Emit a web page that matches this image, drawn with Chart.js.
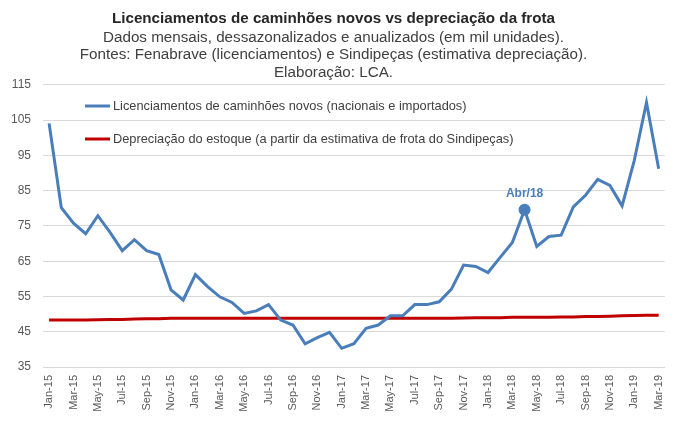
<!DOCTYPE html>
<html>
<head>
<meta charset="utf-8">
<script src="https://cdn.jsdelivr.net/npm/chart.js@4/dist/chart.umd.min.js"></script>
<style>
  html, body { margin: 0; padding: 0; background: #fff; }
  #wrap { width: 680px; height: 423px; }
</style>
</head>
<body>
<div id="wrap"><canvas id="grafico" width="680" height="423"></canvas></div>
<script>
// meses (jan/15 a mar/19)
const meses = [
  "Jan-15","Feb-15","Mar-15","Apr-15","May-15","Jun-15","Jul-15","Aug-15","Sep-15","Oct-15","Nov-15","Dec-15",
  "Jan-16","Feb-16","Mar-16","Apr-16","May-16","Jun-16","Jul-16","Aug-16","Sep-16","Oct-16","Nov-16","Dec-16",
  "Jan-17","Feb-17","Mar-17","Apr-17","May-17","Jun-17","Jul-17","Aug-17","Sep-17","Oct-17","Nov-17","Dec-17",
  "Jan-18","Feb-18","Mar-18","Apr-18","May-18","Jun-18","Jul-18","Aug-18","Sep-18","Oct-18","Nov-18","Dec-18",
  "Jan-19","Feb-19","Mar-19"
];

const licenciamentos = [
  104.1, 80.2, 75.8, 72.8, 77.9, 73.2, 68.0, 71.1, 68.0, 66.9, 56.9, 54.0,
  61.2, 57.8, 54.9, 53.3, 50.2, 50.9, 52.7, 48.3, 46.9, 41.6, 43.3, 44.8,
  40.3, 41.6, 46.0, 46.9, 49.5, 49.5, 52.7, 52.7, 53.5, 57.1, 63.9, 63.5,
  61.8, 66.1, 70.3, 79.6, 69.2, 72.0, 72.4, 80.4, 83.7, 88.2, 86.5, 80.7,
  93.6, 110.0, 91.2
];

const depreciacao = [
  48.3, 48.3, 48.3, 48.3, 48.4, 48.5, 48.5, 48.6, 48.7, 48.7, 48.8, 48.8,
  48.8, 48.8, 48.8, 48.8, 48.8, 48.8, 48.8, 48.8, 48.8, 48.8, 48.8, 48.8,
  48.8, 48.8, 48.8, 48.8, 48.8, 48.8, 48.8, 48.8, 48.8, 48.8, 48.9, 49.0,
  49.0, 49.0, 49.1, 49.1, 49.1, 49.1, 49.2, 49.2, 49.3, 49.3, 49.4, 49.5,
  49.6, 49.7, 49.7
];

const destaque = { indice: 39, texto: "Abr/18" };

const titulo = "Licenciamentos de caminhões novos vs depreciação da frota";
const subtitulo = [
  "Dados mensais, dessazonalizados e anualizados (em mil unidades).",
  "Fontes: Fenabrave (licenciamentos) e Sindipeças (estimativa depreciação).",
  "Elaboração: LCA."
];

const AZUL = "#4a7ebb";
const VERMELHO = "#c00000";
const FONTE = "'Liberation Sans', Arial, sans-serif";

// legenda dentro da área do gráfico
const legendaInterna = {
  id: "legendaInterna",
  afterDraw(chart) {
    const ctx = chart.ctx;
    const linhas = [
      { y: 106, cor: AZUL, texto: chart.data.datasets[0].label },
      { y: 139, cor: VERMELHO, texto: chart.data.datasets[1].label }
    ];
    ctx.save();
    ctx.font = "12.8px " + FONTE;
    ctx.textBaseline = "middle";
    linhas.forEach(l => {
      ctx.strokeStyle = l.cor;
      ctx.lineWidth = 3;
      ctx.beginPath();
      ctx.moveTo(85, l.y);
      ctx.lineTo(110, l.y);
      ctx.stroke();
      ctx.fillStyle = "#404040";
      ctx.fillText(l.texto, 113, l.y + 0.5);
    });
    ctx.restore();
  }
};

const rotuloDestaque = {
  id: "rotuloDestaque",
  afterDatasetsDraw(chart) {
    const ponto = chart.getDatasetMeta(0).data[destaque.indice];
    const ctx = chart.ctx;
    ctx.save();
    ctx.font = "bold 12px " + FONTE;
    ctx.fillStyle = AZUL;
    ctx.textAlign = "center";
    ctx.textBaseline = "middle";
    ctx.fillText(destaque.texto, ponto.x, ponto.y - 16);
    ctx.restore();
  }
};

new Chart(document.getElementById("grafico"), {
  type: "line",
  data: {
    labels: meses,
    datasets: [
      {
        label: "Licenciamentos de caminhões novos (nacionais e importados)",
        data: licenciamentos,
        borderColor: AZUL,
        backgroundColor: AZUL,
        borderWidth: 3,
        tension: 0,
        pointRadius: c => (c.dataIndex === destaque.indice ? 6 : 0),
        pointBorderWidth: 0
      },
      {
        label: "Depreciação do estoque (a partir da estimativa de frota do Sindipeças)",
        data: depreciacao,
        borderColor: VERMELHO,
        backgroundColor: VERMELHO,
        borderWidth: 3,
        tension: 0,
        pointRadius: 0
      }
    ]
  },
  options: {
    responsive: false,
    animation: false,
    layout: { padding: { left: 0, right: 13, top: 0, bottom: 0 } },
    plugins: {
      legend: { display: false },
      tooltip: { enabled: false },
      title: {
        display: true,
        text: titulo,
        color: "#262626",
        font: { family: FONTE, size: 15.2, weight: "bold", lineHeight: 1.15 },
        padding: { top: 10, bottom: 1.25 }
      },
      subtitle: {
        display: true,
        text: subtitulo,
        color: "#404040",
        font: { family: FONTE, size: 15.2, lineHeight: 1.15 },
        padding: { top: 0, bottom: 3.75 }
      }
    },
    scales: {
      x: {
        offset: true,
        grid: { display: false, drawTicks: false },
        border: { display: true, color: "#d9d9d9", width: 1 },
        ticks: {
          autoSkip: false,
          minRotation: 90,
          maxRotation: 90,
          padding: 8,
          color: "#595959",
          font: { family: FONTE, size: 11 },
          callback: function (v, i) { return i % 2 === 0 ? this.getLabelForValue(v) : null; }
        },
        afterFit: s => { s.height = 56; }
      },
      y: {
        min: 35,
        max: 115,
        border: { display: false },
        grid: { color: "#d9d9d9", borderDash: [3, 2], drawTicks: false },
        ticks: {
          stepSize: 10,
          padding: 12,
          color: "#595959",
          font: { family: FONTE, size: 12 }
        },
        afterFit: s => { s.width = 43; }
      }
    }
  },
  plugins: [legendaInterna, rotuloDestaque]
});
</script>
</body>
</html>
